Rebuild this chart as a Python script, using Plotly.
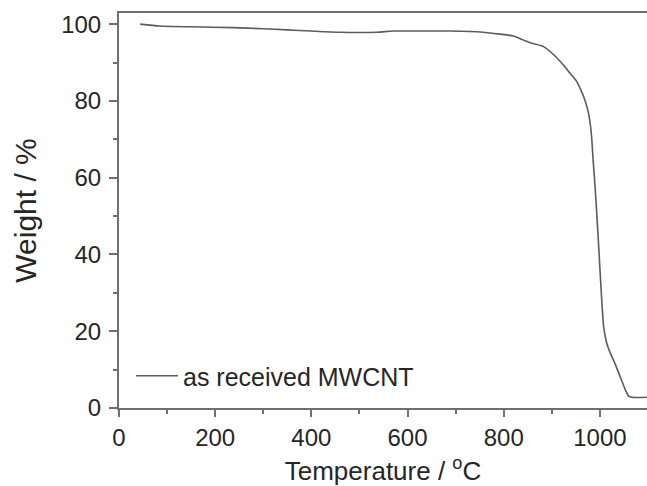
import plotly.graph_objects as go

temperature = [44, 85, 150, 237, 300, 349, 400, 459, 536, 570, 653, 688, 757, 792, 820, 840,
               854, 882, 910, 925, 938, 951, 962, 970, 976, 980, 983, 986, 990, 996, 1003,
               1008, 1014, 1021, 1031, 1045, 1052, 1060, 1066, 1098]
weight = [100.0, 99.5, 99.3, 99.1, 98.8, 98.5, 98.2, 97.9, 97.9, 98.2, 98.2, 98.2, 97.9, 97.4,
          96.9, 95.9, 95.2, 94.2, 91.3, 89.2, 87.2, 85.2, 82.4, 79.8, 77.0, 74.0, 70.3, 64.5,
          57.7, 45.5, 29.9, 21.0, 17.0, 14.5, 11.7, 7.3, 5.0, 3.1, 2.8, 2.8]

series_name = "as received MWCNT"
x_ticks = [0, 200, 400, 600, 800, 1000]
y_ticks = [0, 20, 40, 60, 80, 100]

font_family = "Liberation Sans, Arial, sans-serif"
axis_color = "#6f6f6f"
text_color = "#262626"

fig = go.Figure()
fig.add_trace(go.Scatter(x=temperature, y=weight, mode="lines", name=series_name,
                         line=dict(color="#5c5c5c", width=1.6, smoothing=0.6),
                         line_shape="spline"))

fig.update_layout(
    width=647, height=486,
    margin=dict(l=119, r=0, t=13, b=78),
    plot_bgcolor="white", paper_bgcolor="white",
    font=dict(family=font_family, size=24, color=text_color),
    showlegend=True,
    legend=dict(x=0.0227, y=0.081, xanchor="left", yanchor="middle", itemwidth=42,
                bgcolor="rgba(0,0,0,0)", font=dict(size=25, color=text_color)),
)
fig.update_xaxes(
    range=[0, 1098], tickvals=x_ticks, ticks="outside", ticklen=7, tickwidth=1.5,
    tickcolor=axis_color, showline=True, linecolor=axis_color, linewidth=2, mirror=True,
    showgrid=False, zeroline=False, tickfont=dict(size=24),
    minor=dict(dtick=100, ticks="outside", ticklen=4, tickwidth=1.5, tickcolor=axis_color),
    title=dict(text="Temperature / <sup>o</sup>C", standoff=17, font=dict(size=26)),
)
fig.update_yaxes(
    range=[0, 102.9], tickvals=y_ticks, ticks="outside", ticklen=8, tickwidth=1.5,
    tickcolor=axis_color, showline=True, linecolor=axis_color, linewidth=2, mirror=False,
    showgrid=False, zeroline=False, tickfont=dict(size=24), ticklabelstandoff=3,
    minor=dict(dtick=10, ticks="outside", ticklen=4, tickwidth=1.5, tickcolor=axis_color),
    title=dict(text="Weight / %", standoff=16, font=dict(size=30)),
)

fig.write_html("out.html")
